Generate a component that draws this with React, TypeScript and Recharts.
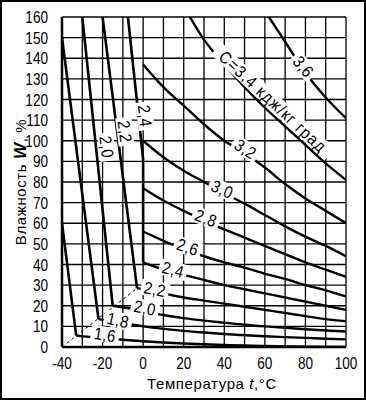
import { ComposedChart, Line, XAxis, YAxis, CartesianGrid, ReferenceDot } from "recharts";

const tempTicks = [-40, -30, -20, -10, 0, 10, 20, 30, 40, 50, 60, 70, 80, 90, 100];
const moistTicks = [0, 10, 20, 30, 40, 50, 60, 70, 80, 90, 100, 110, 120, 130, 140, 150, 160];

// frozen soil branches (t, W)
const frozen16 = [{ t: -40, w: 60 }, { t: -33, w: 5.5 }];
const frozen18 = [{ t: -40, w: 150 }, { t: -22, w: 13.5 }];
const frozen20 = [{ t: -30, w: 160 }, { t: -15, w: 20 }];
const frozen22 = [{ t: -20, w: 160 }, { t: -3, w: 28.5 }];
const frozen24 = [{ t: -7.5, w: 160 }, { t: 0, w: 91 }, { t: 0, w: 41 }];

// boundary of freezing (dashed)
const freezeLine = [{ t: -40, w: 0 }, { t: -3, w: 28.5 }];

// thawed soil isolines
const c16 = [
  { t: -33, w: 5.5 }, { t: -20, w: 4.3 }, { t: -10, w: 3.5 }, { t: 0, w: 2.8 }, { t: 10, w: 2.2 },
  { t: 20, w: 1.7 }, { t: 30, w: 1.3 }, { t: 40, w: 1 }, { t: 50, w: 0.7 }, { t: 60, w: 0.5 },
  { t: 80, w: 0.2 }, { t: 100, w: 0 },
];
const c18 = [
  { t: -22, w: 13.5 }, { t: -10, w: 11.5 }, { t: 0, w: 10 }, { t: 10, w: 8.8 }, { t: 20, w: 7.8 },
  { t: 30, w: 7 }, { t: 40, w: 6.3 }, { t: 50, w: 5.7 }, { t: 60, w: 5.2 }, { t: 70, w: 4.8 },
  { t: 80, w: 4.4 }, { t: 90, w: 4 }, { t: 100, w: 3.7 },
];
const c20 = [
  { t: -15, w: 20 }, { t: -5, w: 18.5 }, { t: 0, w: 17.5 }, { t: 10, w: 15.5 }, { t: 20, w: 14 },
  { t: 30, w: 12.8 }, { t: 40, w: 11.8 }, { t: 50, w: 10.8 }, { t: 60, w: 10 }, { t: 70, w: 9.3 },
  { t: 80, w: 8.6 }, { t: 90, w: 8 }, { t: 100, w: 7.5 },
];
const c22 = [
  { t: -3, w: 28.5 }, { t: 0, w: 28 }, { t: 10, w: 26 }, { t: 20, w: 24 }, { t: 30, w: 22.5 },
  { t: 40, w: 21 }, { t: 50, w: 19.5 }, { t: 60, w: 18 }, { t: 70, w: 16.5 }, { t: 80, w: 15 },
  { t: 90, w: 13.5 }, { t: 100, w: 12.5 },
];
const c24 = [
  { t: 0, w: 41 }, { t: 10, w: 37.5 }, { t: 20, w: 35 }, { t: 30, w: 32.5 }, { t: 40, w: 30 },
  { t: 50, w: 28 }, { t: 60, w: 26 }, { t: 70, w: 24 }, { t: 80, w: 22 }, { t: 90, w: 20 }, { t: 100, w: 18 },
];
const c26 = [
  { t: 0, w: 56 }, { t: 10, w: 51.5 }, { t: 20, w: 47.5 }, { t: 30, w: 44 }, { t: 40, w: 41 },
  { t: 50, w: 38.5 }, { t: 60, w: 35.5 }, { t: 70, w: 33 }, { t: 80, w: 30 }, { t: 90, w: 27.5 }, { t: 100, w: 24.5 },
];
const c28 = [
  { t: 0, w: 77 }, { t: 10, w: 71 }, { t: 20, w: 66 }, { t: 30, w: 61.5 }, { t: 40, w: 57 },
  { t: 50, w: 53 }, { t: 60, w: 49 }, { t: 70, w: 45 }, { t: 80, w: 41 }, { t: 90, w: 37.5 }, { t: 100, w: 34 },
];
const c30 = [
  { t: 0, w: 100 }, { t: 10, w: 92 }, { t: 20, w: 85.5 }, { t: 30, w: 80 }, { t: 40, w: 74.5 },
  { t: 50, w: 69.5 }, { t: 60, w: 64 }, { t: 70, w: 58.5 }, { t: 80, w: 53.5 }, { t: 90, w: 49 }, { t: 100, w: 44 },
];
const c32 = [
  { t: 0, w: 137 }, { t: 10, w: 126 }, { t: 20, w: 117 }, { t: 30, w: 108 }, { t: 40, w: 100 },
  { t: 50, w: 94 }, { t: 60, w: 87 }, { t: 70, w: 79 }, { t: 80, w: 72 }, { t: 90, w: 66 }, { t: 100, w: 60 },
];
const c34 = [
  { t: 23, w: 160 }, { t: 30, w: 149 }, { t: 40, w: 137 }, { t: 50, w: 126 }, { t: 60, w: 116 },
  { t: 70, w: 107 }, { t: 80, w: 98 }, { t: 90, w: 89 }, { t: 100, w: 81 },
];
const c36 = [{ t: 62, w: 160 }, { t: 70, w: 148 }, { t: 80, w: 133 }, { t: 90, w: 121 }, { t: 100, w: 111 }];

const frozenSeries = [frozen16, frozen18, frozen20, frozen22, frozen24];
const thawedSeries = [c16, c18, c20, c22, c24, c26, c28, c30, c32, c34, c36];

// curve captions: position (t, W), text, rotation
const captions = [
  { t: 79, w: 136, text: "3,6", angle: 50, spacing: 0.5 },
  { t: 64, w: 119, text: "C=3,4 кдж/кг град", angle: 43, spacing: 1.3 },
  { t: 50.5, w: 96, text: "3,2", angle: 33, spacing: 0.5 },
  { t: 39, w: 76.5, text: "3,0", angle: 24, spacing: 0.5 },
  { t: 31, w: 62.5, text: "2,8", angle: 21, spacing: 0.5 },
  { t: 22, w: 48.5, text: "2,6", angle: 18, spacing: 0.5 },
  { t: 14.8, w: 37.5, text: "2,4", angle: 15, spacing: 0.5 },
  { t: 5.8, w: 28, text: "2,2", angle: 11, spacing: 0.5 },
  { t: 0.9, w: 19, text: "2,0", angle: 11, spacing: 0.5 },
  { t: -12.3, w: 13, text: "1,8", angle: 13, spacing: 0.5 },
  { t: -18.8, w: 6, text: "1,6", angle: 9, spacing: 0.5 },
  { t: -18, w: 97, text: "2,0", angle: 83, spacing: 0.5 },
  { t: -9, w: 104.5, text: "2,2", angle: 83, spacing: 0.5 },
  { t: 0.9, w: 112, text: "2,4", angle: 83, spacing: 0.5 },
];

const FONT = "'Liberation Sans', Arial, sans-serif";

const XTick = ({ x, y, payload }: any) => {
  const v = payload.value;
  if (v % 20 !== 0) return null;
  return (
    <g transform={`translate(${x},${y + 14}) scale(0.8,1)`}>
      <text x={0} y={0} textAnchor="middle" fontSize={17} fontFamily={FONT} fill="#000">
        {String(v)}
      </text>
    </g>
  );
};

const YTick = ({ x, y, payload }: any) => (
  <g transform={`translate(${x - 6},${y + 6}) scale(0.8,1)`}>
    <text x={0} y={0} textAnchor="end" fontSize={17} fontFamily={FONT} fill="#000">
      {String(payload.value)}
    </text>
  </g>
);

const makeCaption = (text: string, angle: number, spacing: number) => (props: any) => {
  const vb = props.viewBox || {};
  const cx = (vb.x ?? 0) + (vb.width ?? 0) / 2;
  const cy = (vb.y ?? 0) + (vb.height ?? 0) / 2;
  const w = text.length * (7.6 + spacing) + 4;
  return (
    <g transform={`translate(${cx},${cy}) rotate(${angle})`}>
      <rect x={-w / 2} y={-8} width={w} height={16} fill="#fff" />
      <g transform="scale(0.88,1)">
        <text x={0} y={6} textAnchor="middle" fontSize={17} fontFamily={FONT} fill="#000" letterSpacing={spacing}>
          {text}
        </text>
      </g>
    </g>
  );
};

const XTitle = (props: any) => {
  const vb = props.viewBox;
  return (
    <text x={vb.x + vb.width / 2 + 8} y={389} textAnchor="middle" fontSize={15} fontFamily={FONT} fill="#000" letterSpacing={0.6}>
      Температура <tspan fontStyle="italic">t</tspan>,°C
    </text>
  );
};

const YTitle = (props: any) => {
  const vb = props.viewBox;
  const cy = vb.y + vb.height / 2;
  return (
    <text
      transform={`translate(26,${cy}) rotate(-90)`}
      textAnchor="middle"
      fontSize={15}
      fontFamily={FONT}
      fill="#000"
      letterSpacing={0.6}
    >
      Влажность <tspan fontStyle="italic" fontWeight="bold" fontSize={17}>W</tspan>, %
    </text>
  );
};

export default function App() {
  return (
    <div
      style={{
        position: "absolute",
        left: 0,
        top: 0,
        width: 366,
        height: 400,
        background: "#fff",
        boxSizing: "border-box",
        border: "2px solid #000",
      }}
    >
      <div style={{ position: "absolute", left: -2, top: -2 }}>
        <ComposedChart width={366} height={400} margin={{ top: 17, right: 20, bottom: 23, left: 0 }}>
          <CartesianGrid stroke="#000" strokeWidth={1.3} />
          <XAxis
            dataKey="t"
            type="number"
            domain={[-40, 100]}
            ticks={tempTicks}
            interval={0}
            height={30}
            tick={<XTick />}
            tickLine={false}
            axisLine={{ stroke: "#000", strokeWidth: 2.5 }}
            allowDataOverflow
            label={<XTitle />}
          />
          <YAxis
            dataKey="w"
            type="number"
            domain={[0, 160]}
            ticks={moistTicks}
            interval={0}
            tick={<YTick />}
            tickLine={false}
            width={62}
            axisLine={{ stroke: "#000", strokeWidth: 2.5 }}
            allowDataOverflow
            label={<YTitle />}
          />
          <Line
            data={freezeLine}
            dataKey="w"
            type="linear"
            stroke="#000"
            strokeWidth={1}
            strokeDasharray="3 3"
            dot={false}
            activeDot={false}
            isAnimationActive={false}
          />
          {frozenSeries.map((s, i) => (
            <Line
              key={`f${i}`}
              data={s}
              dataKey="w"
              type="linear"
              stroke="#000"
              strokeWidth={2.6}
              dot={false}
              activeDot={false}
              isAnimationActive={false}
            />
          ))}
          {thawedSeries.map((s, i) => (
            <Line
              key={`c${i}`}
              data={s}
              dataKey="w"
              type="monotone"
              stroke="#000"
              strokeWidth={2.4}
              dot={false}
              activeDot={false}
              isAnimationActive={false}
            />
          ))}
          {captions.map((c, i) => (
            <ReferenceDot
              key={`l${i}`}
              x={c.t}
              y={c.w}
              r={1}
              fill="none"
              stroke="none"
              label={makeCaption(c.text, c.angle, c.spacing)}
            />
          ))}
        </ComposedChart>
      </div>
    </div>
  );
}
